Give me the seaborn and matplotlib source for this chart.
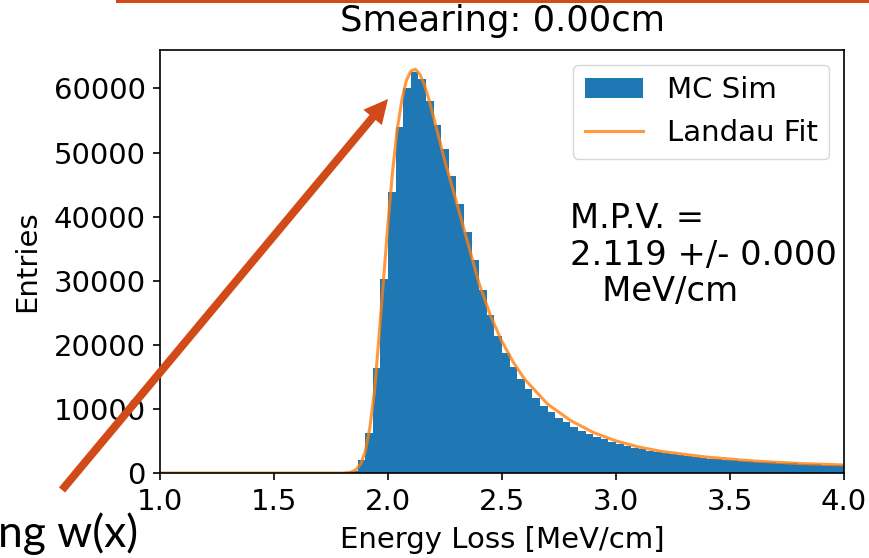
import numpy as np
import pandas as pd
import matplotlib
matplotlib.use("Agg")
import matplotlib.pyplot as plt
import seaborn as sns
from matplotlib.patches import FancyArrow, Rectangle

# ---- data ----
# histogram counts per bin (bin width 1/30 MeV/cm, first bin starts at 55/30)
counts = [300, 2000, 6200, 16400, 30300, 43800, 54000, 60000, 62600, 61500,
          58000, 54300, 50500, 46300, 41900, 37600, 33300, 28600, 24600, 21400,
          18800, 16600, 14700, 13100, 11750, 10500, 9500, 8650, 7880, 7200,
          6620, 6100, 5640, 5230, 4870, 4530, 4230, 3950, 3700, 3470,
          3260, 3070, 2900, 2740, 2600, 2470, 2360, 2260, 2160, 2070,
          1990, 1910, 1840, 1770, 1710, 1650, 1590, 1540, 1490, 1440,
          1400, 1360, 1320, 1280, 1240]
bin_lo = 55 / 30
bin_w = 1 / 30

# Landau fit curve points
fit_x = [1.0, 1.80, 1.84, 1.86, 1.88, 1.90, 1.92, 1.94, 1.96, 1.98, 2.00,
         2.02, 2.04, 2.06, 2.08, 2.10, 2.12, 2.14, 2.16, 2.18, 2.20, 2.25,
         2.30, 2.35, 2.40, 2.45, 2.50, 2.55, 2.60, 2.70, 2.80, 2.90, 3.00,
         3.10, 3.20, 3.40, 3.60, 3.80, 4.00]
fit_y = [0, 0, 150, 550, 1400, 3300, 7000, 12500, 21000, 30000, 39000,
         47000, 53500, 58000, 61200, 62700, 63000, 62200, 60500, 58200, 55500, 48600,
         42300, 35900, 29500, 24500, 20500, 17250, 14600, 10750, 8200, 6330, 5000,
         4050, 3360, 2470, 1880, 1490, 1250]

x_ticks = [1.0, 1.5, 2.0, 2.5, 3.0, 3.5, 4.0]
y_ticks = [0, 10000, 20000, 30000, 40000, 50000, 60000]

title = "Smearing: 0.00cm"
xlabel = "Energy Loss [MeV/cm]"
ylabel = "Entries"
mpv_text = "M.P.V. =\n2.119 +/- 0.000\n   MeV/cm"
slide_text = "ng w(x)"

# ---- style ----
plt.rcParams.update({
    "font.family": ["DejaVu Sans"],
    "font.size": 21,
    "axes.linewidth": 1.2,
    "xtick.major.size": 5.3, "ytick.major.size": 5.3,
    "xtick.major.width": 1.2, "ytick.major.width": 1.2,
    "xtick.major.pad": 5.5, "ytick.major.pad": 5.0,
    "xtick.labelsize": 21, "ytick.labelsize": 21,
})

W, H = 869, 558
fig = plt.figure(figsize=(W / 100, H / 100), dpi=100)
ax = fig.add_axes([160 / W, (H - 473) / H, 684 / W, 423 / H])

centers = bin_lo + bin_w * (np.arange(len(counts)) + 0.5)
df = pd.DataFrame({"loss": centers, "n": counts})

sns.histplot(data=df, x="loss", weights="n", binwidth=bin_w,
             binrange=(bin_lo, bin_lo + bin_w * len(counts)), element="step",
             fill=True, color="#1f77b4", alpha=1, linewidth=0, label="MC Sim", ax=ax)
sns.lineplot(x=fit_x, y=fit_y, color="#ff7f0e", alpha=0.8, linewidth=2.2,
             label="Landau Fit", ax=ax)

ax.set_xlim(1.0, 4.0)
ax.set_ylim(0, 66000)
ax.set_xticks(x_ticks)
ax.set_yticks(y_ticks)
ax.set_title(title, fontsize=25.4, pad=14)
ax.set_xlabel(xlabel, fontsize=21, labelpad=7)
ax.set_ylabel(ylabel, fontsize=21, labelpad=9)

handles, labels = ax.get_legend_handles_labels()
order = [labels.index("MC Sim"), labels.index("Landau Fit")]
ax.legend([handles[i] for i in order], [labels[i] for i in order],
          loc="upper right", fontsize=21)

ax.text(0.5994, 0.64, mpv_text, transform=ax.transAxes, ha="left", va="top",
        fontsize=24.3, linespacing=1.13)

# ---- slide decorations ----
inch = fig.dpi_scale_trans
slide_col = "#D24A17"
fig.add_artist(Rectangle((116 / 100, (H - 2.5) / 100), (W - 116) / 100, 0.03,
                         transform=inch, color=slide_col, lw=0, zorder=10))
x0, y0 = 62 / 100, (H - 490) / 100
x1, y1 = 388 / 100, (H - 99) / 100
fig.add_artist(FancyArrow(x0, y0, x1 - x0, y1 - y0, width=0.08, head_width=0.24,
                          head_length=0.24, length_includes_head=True,
                          transform=inch, color=slide_col, lw=0, zorder=10))
fig.text(-0.002, (H - 547) / H, slide_text, fontsize=32, family=["Lato", "DejaVu Sans"],
         ha="left", va="baseline", color="black")

fig.savefig("out.png", dpi=100)
